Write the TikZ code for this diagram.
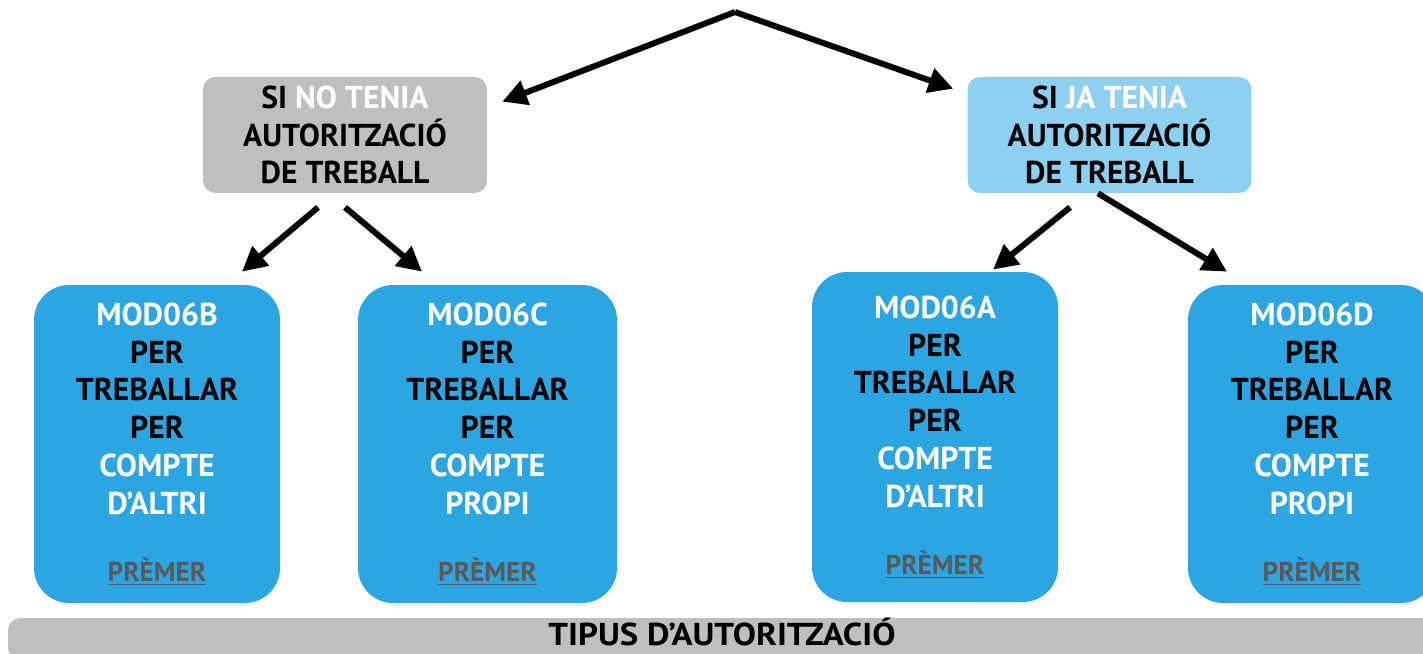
\documentclass[tikz,border=0pt]{standalone}
\usepackage{fontspec}
\setmainfont{PT Sans}
\usetikzlibrary{arrows.meta,positioning}
\definecolor{greybox}{HTML}{BFBFBF}
\definecolor{lightblue}{HTML}{8ED0F0}
\definecolor{modblue}{HTML}{2CA5E3}
\definecolor{linkgrey}{HTML}{595959}
\newcommand{\wt}[1]{\textcolor{white}{#1}}
\newcommand{\premer}{{\fontsize{15.5}{16}\selectfont\color{linkgrey}\underline{PRÈMER}}}

\begin{document}
\begin{tikzpicture}[x=0.02cm,y=-0.02cm,
  font=\fontsize{18}{21.5}\selectfont\bfseries,
  question/.style={rounded corners=7pt,minimum width=5.68cm,minimum height=2.32cm,align=center,inner sep=0pt},
  modbox/.style={fill=modblue,rounded corners=20pt,align=center,inner sep=0pt},
  pointer/.style={line width=3.4pt,-{Triangle[length=14pt,width=14pt]}}]
\useasboundingbox (0,0) rectangle (1423,653);

\node[question,fill=greybox] (no) at (345,135) {SI \wt{NO TENIA}\\AUTORITZACIÓ\\DE TREBALL};
\node[question,fill=lightblue] (ja) at (1109.5,135) {SI \wt{JA TENIA}\\AUTORITZACIÓ\\DE TREBALL};

\foreach \nm/\cx/\cy/\bw/\bh/\lt/\kind in {
  modB/157/444/246/318/B/D’ALTRI,
  modC/487.5/444/259/318/C/PROPI,
  modA/935/437/246/330/A/D’ALTRI,
  modD/1312/444/248/318/D/PROPI}
  \node[modbox,minimum width=\bw*0.02cm,minimum height=\bh*0.02cm] (\nm) at (\cx,\cy)
    {\wt{MOD06\lt}\\PER\\TREBALLAR\\PER\\\wt{COMPTE}\\\wt{\kind}\\[17pt]\premer};

% barra inferior
\fill[greybox,rounded corners=7pt] (8,618) rectangle (1436,660);
\node[inner sep=0pt,text height=0.44cm,text depth=0pt] (tipus) at (722,634)
  {\scalebox{1.1}[1]{TIPUS D’AUTORITZACIÓ}};

\coordinate (apex) at (735,12);
\draw[pointer] (apex) -- ([shift={(15,25)}]no.north east);
\draw[pointer] (apex) -- ([shift={(-14,12)}]ja.north west);

\draw[pointer] ([shift={(-27,14)}]no.south) -- ([shift={(85,-13)}]modB.north);
\draw[pointer] ([shift={(0,14)}]no.south) -- ([shift={(-65.5,-13)}]modC.north);
\draw[pointer] ([shift={(-39.5,14)}]ja.south) -- ([shift={(58,-2)}]modA.north);
\draw[pointer] ([shift={(-11.5,0)}]ja.south) -- ([shift={(-85,-13)}]modD.north);
\end{tikzpicture}
\end{document}
